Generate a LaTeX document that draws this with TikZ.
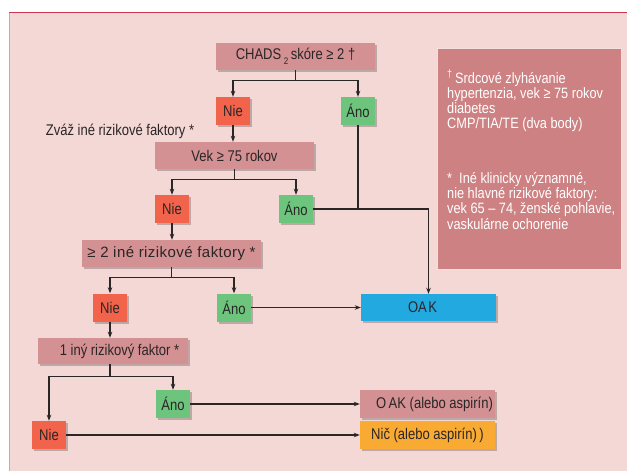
\documentclass[tikz,border=0pt]{standalone}
\usepackage{fontspec}
\setmainfont{Liberation Sans}[FakeStretch=0.84]
\newfontfamily\widefont{Liberation Sans}[LetterSpace=3]
\newfontfamily\notefont{Liberation Sans}[FakeStretch=0.85]
\usetikzlibrary{arrows.meta,shadows}

\definecolor{ink}{HTML}{2B2526}
\definecolor{bgpink}{HTML}{F3D8D6}
\definecolor{topline}{HTML}{C8364F}
\definecolor{leftline}{HTML}{E59AAA}
\definecolor{qcol}{HTML}{D39193}
\definecolor{niecol}{HTML}{F1634A}
\definecolor{anocol}{HTML}{6DC47D}
\definecolor{oakcol}{HTML}{22A9E0}
\definecolor{niccol}{HTML}{F9AA33}
\definecolor{infocol}{HTML}{CE8182}
\definecolor{infoedge}{HTML}{F3E0DE}

\begin{document}
\begin{tikzpicture}[x=1pt,y=-1pt,
  every node/.style={text=ink, font=\fontsize{15.5}{17}\selectfont},
  box/.style={inner sep=0pt,
    drop shadow={shadow xshift=2pt,shadow yshift=-2pt,opacity=0.22,fill=black}},
  qbox/.style={box, fill=qcol, minimum height=27pt},
  nobox/.style={box, fill=niecol, minimum width=34pt, minimum height=28pt},
  yesbox/.style={box, fill=anocol, minimum width=34pt, minimum height=28pt},
  flow/.style={line width=1.2pt, draw=ink},
  arr/.style={flow, -{Stealth[length=6pt,width=4.5pt]}}
]
\useasboundingbox (0,0) rectangle (627,471);

% page background and frame
\fill[white] (0,0) rectangle (627,471);
\fill[bgpink] (9,12) rectangle (627,471);
\draw[leftline, line width=1.2pt] (9.6,12) -- (9.6,471);
\draw[topline, line width=1.4pt] (9,12.6) -- (627,12.6);

% decision boxes and outcomes
\node[qbox, minimum width=159pt] (chads) at (295.5,56.5)
  {CHADS\,\raisebox{-5pt}{\fontsize{9.5}{9.5}\selectfont 2}\,skóre ≥ 2 †};
\node[nobox] (nie1) at (233,111) {Nie};
\node[yesbox] (ano1) at (358,111) {Áno};
\node[inner sep=0pt] (zvaz) at (120,131) {Zváž iné rizikové faktory *};

\node[qbox, minimum width=159pt] (vek) at (234.5,155.5) {Vek ≥ 75 rokov};
\node[nobox] (nie2) at (172,209) {Nie};
\node[yesbox] (ano2) at (296,209) {Áno};

\node[qbox, minimum width=179pt, font=\widefont\fontsize{15}{17}\selectfont] (two)
  at (171.5,253.5) {≥ 2 iné rizikové faktory *};
\node[nobox] (nie3) at (110,307.5) {Nie};
\node[yesbox] (ano3) at (234,307.5) {Áno};
\node[box, fill=oakcol, minimum width=135pt, minimum height=27pt] (oak)
  at (428.5,307.5) {\hspace*{-12pt}OA\kern1.5pt K};

\node[qbox, minimum width=150pt, minimum height=26pt] (one) at (113,351)
  {\hspace*{13pt}1 iný rizikový faktor *};
\node[yesbox] (ano4) at (173,404) {Áno};
\node[nobox] (nie4) at (49,435) {Nie};
\node[qbox, minimum width=135pt, minimum height=28pt] (oak2) at (427.5,404)
  {\hspace*{14pt}O\kern2.5pt AK (alebo aspirín)};
\node[box, fill=niccol, minimum width=135pt, minimum height=28pt] (nic)
  at (427.5,435) {Nič (alebo aspirín)\,)};

% notes panel
\node[fill=infocol, draw=infoedge, line width=0.8pt, inner sep=0pt,
  minimum width=184pt, minimum height=221pt] (info) at (529,158.5) {};
\node[anchor=north west, inner sep=0pt, align=left, text=white,
  font=\notefont\fontsize{15}{15.3}\selectfont] (notes) at (447,70)
  {\textsuperscript{†}\,Srdcové zlyhávanie\\
   hypertenzia, vek ≥ 75 rokov\\
   diabetes\\
   CMP/TIA/TE (dva body)\\[39pt]
   *\ \ Iné klinicky významné,\\
   nie hlavné rizikové faktory:\\
   vek 65 – 74, ženské pohlavie,\\
   vaskulárne ochorenie};

% connectors
\draw[arr] (chads.south) -- ++(0,10) -| (nie1.north);
\draw[arr] (chads.south) -- ++(0,10) -| (ano1.north);
\draw[arr] (nie1.south) -- (nie1.south |- vek.north);

\draw[arr] (vek.south) -- ++(0,10) -| (nie2.north);
\draw[arr] (vek.south) -- ++(0,10) -| (ano2.north);
\draw[flow] (ano1.south) -- (ano1.south |- ano2.east);
\draw[arr] (ano2.east) -| (oak.north);
\draw[arr] (nie2.south) -- (nie2.south |- two.north);

\draw[arr] (two.south) -- ++(0,10.5) -| (nie3.north);
\draw[arr] (two.south) -- ++(0,10.5) -| (ano3.north);
\draw[arr] (ano3.east) -- (oak.west);
\draw[arr] (nie3.south) -- (nie3.south |- one.north);

\draw[arr] (one.south -| nie3.south) -- ++(0,12) -| (nie4.north);
\draw[arr] (one.south -| nie3.south) -- ++(0,12) -| (ano4.north);
\draw[arr] (ano4.east) -- (oak2.west);
\draw[arr] (nie4.east) -- (nic.west);
\end{tikzpicture}
\end{document}
